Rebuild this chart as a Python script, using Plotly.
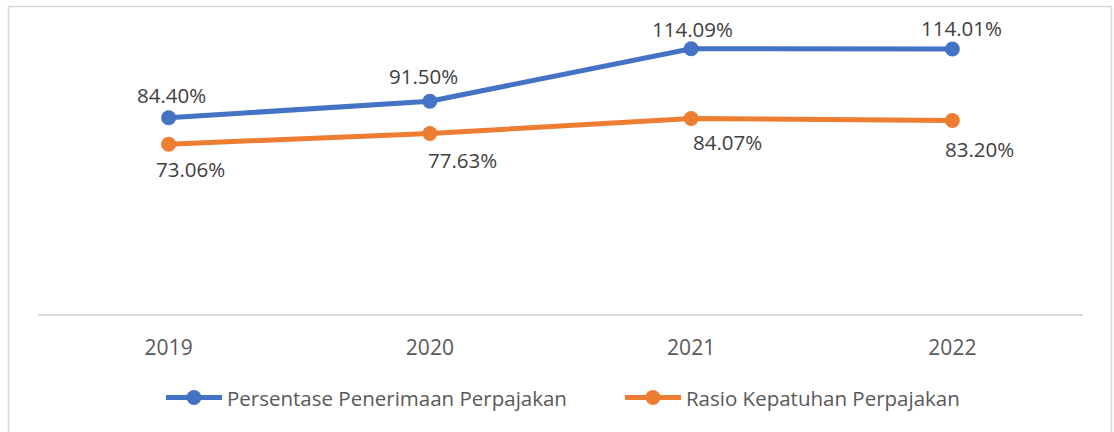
import plotly.graph_objects as go

years = ["2019", "2020", "2021", "2022"]
penerimaan = [84.40, 91.50, 114.09, 114.01]
kepatuhan = [73.06, 77.63, 84.07, 83.20]
series_names = ["Persentase Penerimaan Perpajakan", "Rasio Kepatuhan Perpajakan"]

BLUE = "#4472C4"
ORANGE = "#ED7D31"
FONT = "Open Sans"

fig = go.Figure()
fig.add_trace(go.Scatter(x=years, y=penerimaan, name=series_names[0], mode="lines+markers",
                         line=dict(color=BLUE, width=5), marker=dict(color=BLUE, size=15)))
fig.add_trace(go.Scatter(x=years, y=kepatuhan, name=series_names[1], mode="lines+markers",
                         line=dict(color=ORANGE, width=5), marker=dict(color=ORANGE, size=15)))

# label offsets (px) as placed in the original chart
blue_off = [(3, -23), (-6, -25), (1, -20), (9, -21)]
orange_off = [(22, 25), (33, 26), (36, 23), (27, 28)]
annotations = []
for ys, offs in ((penerimaan, blue_off), (kepatuhan, orange_off)):
    for i, (y, (dx, dy)) in enumerate(zip(ys, offs)):
        annotations.append(dict(x=i, y=y, xref="x", yref="y", text=f"{y:.2f}%",
                                showarrow=False, xshift=dx, yshift=-dy,
                                font=dict(family=FONT, size=20.5, color="#404040")))

fig.add_shape(type="rect", xref="paper", yref="paper",
              x0=-0.0282, x1=1.0273, y0=-0.46, y1=1.1022,
              line=dict(color="#D9D9D9", width=1.5), fillcolor="rgba(0,0,0,0)", layer="below")

fig.update_layout(
    width=1114, height=432,
    margin=dict(l=38, r=31, t=35, b=118),
    paper_bgcolor="white", plot_bgcolor="white",
    showlegend=True,
    annotations=annotations,
    legend=dict(orientation="h", x=0.5569, xanchor="center", y=-0.30, yanchor="middle",
                font=dict(family=FONT, size=20.5, color="#595959"),
                itemwidth=56, entrywidth=388, bgcolor="rgba(0,0,0,0)"),
    xaxis=dict(type="category", showline=True, linecolor="#D9D9D9", linewidth=1.5, showgrid=False,
               ticks="", tickfont=dict(family=FONT, size=21, color="#595959"),
               ticklabelstandoff=14, range=[-0.5, 3.5], fixedrange=True),
    yaxis=dict(visible=False, range=[0, 120], fixedrange=True),
)

fig.write_html("out.html")
